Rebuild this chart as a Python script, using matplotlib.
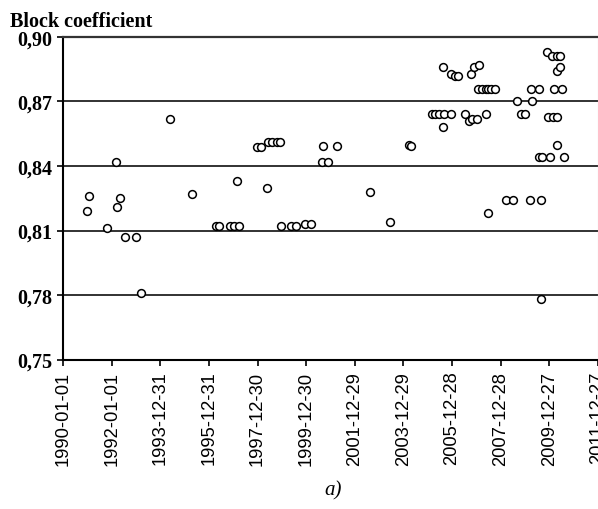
import matplotlib
matplotlib.use("Agg")
import matplotlib.pyplot as plt
import matplotlib.dates as mdates
import pandas as pd
from matplotlib.ticker import FuncFormatter

plt.rcParams.update({
    "font.family": ["Liberation Serif", "DejaVu Serif"],
})

# delivery date of each ship and its block coefficient
dates = [
    "1991-01-02", "1991-02-01", "1991-10-16", "1992-02-28", "1992-03-23",
    "1992-05-02", "1992-07-19", "1992-12-24", "1993-03-20", "1994-05-20",
    "1995-04-14", "1996-04-17", "1996-05-24", "1996-11-17", "1997-01-15",
    "1997-03-21", "1997-02-19", "1997-12-18", "1998-02-16", "1998-05-31",
    "1998-08-11", "1998-10-13", "1998-12-04", "1998-05-16", "1998-12-15",
    "1999-05-15", "1999-07-27", "1999-12-17", "2000-03-16", "2000-08-18",
    "2000-11-21", "2000-09-11", "2001-04-09", "2002-08-10", "2003-06-13",
    "2004-03-16", "2004-04-15", "2005-03-02", "2005-04-18", "2005-06-19",
    "2005-08-28", "2005-12-14", "2005-08-09", "2005-08-06", "2005-12-08",
    "2006-02-06", "2006-04-02", "2006-07-11", "2006-09-09", "2006-10-25",
    "2007-01-11", "2007-05-15", "2006-10-09", "2006-11-27", "2007-02-02",
    "2007-01-14", "2007-03-15", "2007-05-15", "2007-06-24", "2007-08-08",
    "2007-10-07", "2007-06-24", "2008-03-09", "2008-07-05", "2008-09-04",
    "2009-04-08", "2008-10-25", "2008-12-28", "2009-03-09", "2009-08-29",
    "2009-04-02", "2009-07-23", "2009-07-19", "2009-09-06", "2010-01-02",
    "2010-08-04", "2009-08-29", "2009-11-27", "2010-02-05", "2010-04-26",
    "2010-06-10", "2010-04-26", "2010-06-05", "2010-03-12", "2010-07-08",
    "2009-12-08", "2010-02-21", "2010-04-14", "2010-04-26",
]
cb = [
    0.819, 0.826, 0.811, 0.842, 0.821,
    0.825, 0.807, 0.807, 0.781, 0.862,
    0.827, 0.812, 0.812, 0.812, 0.812,
    0.812, 0.833, 0.849, 0.849, 0.851,
    0.851, 0.851, 0.851, 0.830, 0.812,
    0.812, 0.812, 0.813, 0.813, 0.842,
    0.842, 0.8495, 0.8495, 0.828, 0.814,
    0.850, 0.8495, 0.864, 0.864, 0.864,
    0.864, 0.864, 0.858, 0.886, 0.883,
    0.882, 0.882, 0.864, 0.861, 0.862,
    0.862, 0.864, 0.883, 0.886, 0.887,
    0.876, 0.876, 0.876, 0.876, 0.876,
    0.876, 0.818, 0.824, 0.824, 0.870,
    0.870, 0.864, 0.864, 0.824, 0.824,
    0.876, 0.876, 0.844, 0.844, 0.844,
    0.844, 0.778, 0.893, 0.891, 0.891,
    0.891, 0.884, 0.886, 0.876, 0.876,
    0.863, 0.863, 0.863, 0.850,
]
y_ticks = [0.75, 0.78, 0.81, 0.84, 0.87, 0.90]

x = pd.to_datetime(dates)
x_ticks = pd.date_range("1990-01-01", periods=12, freq="730D")

fig = plt.figure(figsize=(5.98, 5.10), dpi=100)
ax = fig.add_axes([0.1054, 0.2931, 0.8946, 0.6324])

ax.plot(x, cb, "o", ms=5.6, mfc="white", mec="black", mew=1.1,
        linestyle="none", zorder=3)

ax.set_xlim(x_ticks[0], x_ticks[-1])
ax.set_ylim(0.75, 0.90)
ax.set_yticks(y_ticks)
ax.yaxis.set_major_formatter(FuncFormatter(lambda v, p: f"{v:.2f}".replace(".", ",")))
ax.set_xticks(x_ticks)
ax.xaxis.set_major_formatter(mdates.DateFormatter("%Y-%m-%d"))
ax.tick_params(axis="x", labelrotation=90, length=4, width=1.2, pad=4)
ax.tick_params(axis="y", labelsize=14.5, length=4.5, width=1.2, pad=3.5)
for lab in ax.get_xticklabels():
    lab.set_family(["Liberation Sans", "DejaVu Sans"])
    lab.set_fontsize(13.2)
for lab in ax.get_yticklabels():
    lab.set_fontweight("bold")

ax.grid(axis="y", color="#222", lw=1.3, zorder=1)
ax.set_axisbelow(True)
for side in ("left", "bottom"):
    ax.spines[side].set_linewidth(1.5)
    ax.spines[side].set_color("black")
ax.spines["top"].set_linewidth(1.6)
ax.spines["top"].set_color("#333")
ax.spines["right"].set_linewidth(0.8)
ax.spines["right"].set_color("#cfcfcf")

fig.text(0.017, 1 - 26.7 / 510, "Block coefficient", fontsize=14.5,
         fontweight="bold", va="baseline", ha="left")
fig.text(333 / 598, 1 - 491 / 510, "a)", fontsize=15, fontstyle="italic",
         ha="center", va="center")

fig.savefig("out.png", dpi=100)
